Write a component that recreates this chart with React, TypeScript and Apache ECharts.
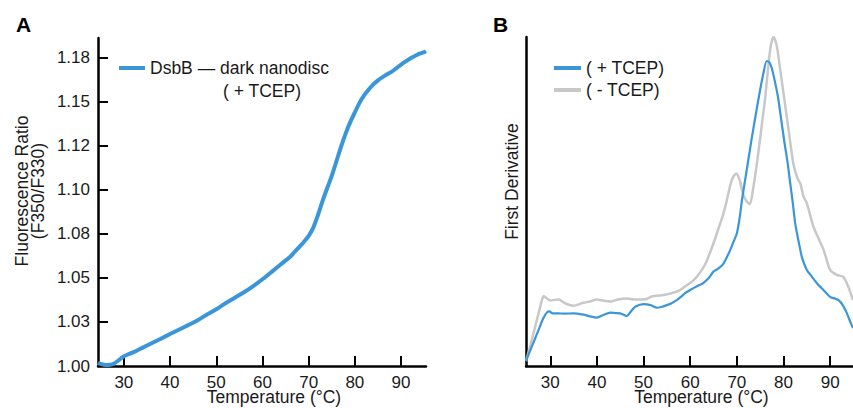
import React, { useEffect, useRef } from "react";
import * as echarts from "echarts";

// Panel A: DsbB — dark nanodisc (+TCEP), fluorescence ratio vs temperature
const tempA = [24.4, 25, 26, 27, 28, 29, 30, 32, 34, 36, 38, 40, 42, 44, 46, 48, 50, 52, 54, 56, 58, 60, 62, 64, 66, 67, 68, 69, 70, 71, 72, 73, 74, 75, 76, 77, 78, 79, 80, 81, 82, 83, 84, 85, 86, 87, 88, 89, 90, 91, 92, 93, 94, 95, 95.4];
const ratioA = [1.0018, 1.0012, 1.0006, 1.0007, 1.0016, 1.0035, 1.0055, 1.0077, 1.0103, 1.0129, 1.0155, 1.0181, 1.0207, 1.0233, 1.026, 1.0292, 1.0322, 1.0356, 1.0387, 1.0418, 1.0453, 1.0492, 1.0534, 1.0577, 1.062, 1.0648, 1.0676, 1.0705, 1.0738, 1.0785, 1.0855, 1.0935, 1.1008, 1.1078, 1.116, 1.1243, 1.1318, 1.1383, 1.1438, 1.1492, 1.1535, 1.1568, 1.1597, 1.162, 1.1638, 1.1654, 1.1669, 1.1689, 1.1709, 1.1727, 1.1744, 1.1758, 1.1771, 1.178, 1.1785];

// Panel B: first derivative
const tempPlus = [24.8, 25.5, 26.5, 27.5, 28.5, 29.3, 29.8, 30.5, 31.7, 33, 35, 37.1, 38.5, 40, 41.5, 42.9, 44, 45, 46.4, 47.3, 48.2, 50, 51.5, 52.9, 54, 55, 56, 57.1, 58, 59, 60, 61, 62, 62.8, 64, 65, 66, 67, 68, 68.6, 69.3, 70, 70.6, 71.1, 72, 73, 74, 75, 75.7, 76.4, 77, 77.5, 78, 78.8, 79.5, 80.2, 80.9, 81.4, 82, 82.5, 82.9, 83.5, 84, 85, 86, 87.5, 88.5, 90, 91, 91.8, 92.7, 93.6, 94.3, 94.9];
const derivPlus = [1.5, 4, 7.5, 11, 14.5, 16.3, 16.6, 16.0, 16.0, 15.9, 16.0, 15.6, 15.1, 14.7, 15.6, 16.2, 16.1, 16.0, 15.2, 16.6, 18.0, 18.8, 18.5, 17.7, 18.0, 18.5, 19.1, 20.0, 21.0, 22.2, 23.1, 23.9, 24.6, 25.2, 26.8, 28.7, 29.6, 30.8, 33.5, 35.3, 37.8, 40.3, 45, 50.5, 58.5, 67.5, 76, 84, 89, 92.7, 92.2, 90.5, 87.5, 81.9, 75, 68, 61.6, 56, 49.5, 43.4, 40.3, 36, 32.8, 29.2, 27.3, 24.6, 23.2, 21, 20.5, 20, 18.5, 16, 13.5, 11.5];
const tempMinus = [24.8, 25.5, 26.5, 27.5, 28.2, 28.6, 29.2, 30, 31, 31.8, 33, 34, 35, 36, 37.1, 38.5, 40, 41.5, 42.9, 44.5, 46.4, 48, 49.4, 50.5, 52.1, 53.5, 55.7, 57.5, 59.3, 60.5, 61.4, 62.5, 63.5, 65, 66, 67, 67.8, 68.5, 69.2, 69.9, 70.6, 71.3, 72, 72.8, 73.5, 74.3, 75.4, 76.1, 76.8, 77.3, 77.9, 78.6, 79.3, 80.1, 81.1, 82.1, 83, 83.6, 84.3, 85, 86.4, 87.5, 88.6, 90, 91.4, 92.8, 93.9, 94.9];
const derivMinus = [1.5, 5, 10.5, 16, 20, 21.3, 20.6, 19.9, 20.1, 20.2, 19.2, 18.6, 18.3, 18.7, 19.2, 19.6, 20.2, 19.8, 19.6, 20.2, 20.5, 20.2, 20.2, 20.3, 21.3, 21.4, 22.0, 22.8, 24.6, 25.8, 27.1, 29.2, 31.8, 37.3, 41.5, 45.8, 50, 54.5, 57.5, 58.5, 56.5, 52.5, 50.2, 49.2, 54, 61.6, 73.8, 81.9, 92, 97.6, 100, 97, 90, 81.9, 71.7, 61.6, 57, 55.5, 51.5, 49.5, 42.4, 38.8, 35.3, 29.2, 27.7, 27.1, 24.1, 20];

// Ticks
const xTicks = [30, 40, 50, 60, 70, 80, 90];
const yTickValuesA = [1.0, 1.025, 1.05, 1.075, 1.1, 1.125, 1.15, 1.175];
const yTickLabelsA = ["1.00", "1.03", "1.05", "1.08", "1.10", "1.12", "1.15", "1.18"];

const seriesNameA = "DsbB — dark nanodisc";
const seriesNameA2 = "( + TCEP)";
const namePlus = "( + TCEP)";
const nameMinus = "( - TCEP)";

const BLUE = "#3a96d8";
const GRAY = "#c8c8c8";
const FONT = "'Liberation Sans', Arial, Helvetica, sans-serif";
const TXT = "#1a1a1a";

const zip = (xs: number[], ys: number[]) => {
  const n = Math.min(xs.length, ys.length);
  const out: number[][] = [];
  for (let i = 0; i < n; i++) out.push([xs[i], ys[i]]);
  return out;
};

export default function App() {
  const ref = useRef<HTMLDivElement>(null);
  useEffect(() => {
    if (!ref.current) return;
    const chart = echarts.init(ref.current, undefined, { renderer: "svg" });

    const axisLine = { show: true, onZero: false, lineStyle: { color: "#000", width: 2.5 } };
    const tick = { show: true, inside: true, length: 10, lineStyle: { color: "#000", width: 2 } };
    const xAxisBase = (gridIndex: number, min: number, max: number) => ({
      type: "value",
      gridIndex,
      min,
      max,
      axisLine,
      axisTick: { ...tick, customValues: xTicks },
      axisLabel: { customValues: xTicks, fontSize: 17, lineHeight: 13, color: TXT, fontFamily: FONT, margin: 10 },
      splitLine: { show: false },
      name: "Temperature (°C)",
      nameLocation: "middle",
      nameGap: 24.25,
      nameMoveOverlap: false,
      nameTextStyle: { fontSize: 17.5, lineHeight: 13, color: TXT, fontFamily: FONT, padding: [0, 0, 0, 24] },
    });

    chart.setOption({
      animation: false,
      textStyle: { fontFamily: FONT },
      grid: [
        { left: 98, top: 38, width: 328, bottom: 42, containLabel: false, outerBoundsMode: "none" },
        { left: 526, top: 37, right: 0, bottom: 42, containLabel: false, outerBoundsMode: "none" },
      ],
      xAxis: [xAxisBase(0, 24.4, 95.4), xAxisBase(1, 24.8, 94.9)],
      yAxis: [
        {
          type: "value",
          gridIndex: 0,
          min: 1.0,
          max: 1.186,
          axisLine,
          axisTick: { ...tick, customValues: yTickValuesA },
          axisLabel: {
            customValues: yTickValuesA,
            fontSize: 17,
            color: TXT,
            fontFamily: FONT,
            margin: 8,
            formatter: (v: number) => {
              const i = yTickValuesA.findIndex((t) => Math.abs(t - v) < 1e-6);
              return i >= 0 ? yTickLabelsA[i] : "";
            },
          },
          splitLine: { show: false },
          name: "Fluorescence Ratio\n(F350/F330)",
          nameLocation: "middle",
          nameRotate: 90,
          nameGap: 52,
          nameMoveOverlap: false,
          nameTextStyle: { fontSize: 17.5, lineHeight: 16, color: TXT, fontFamily: FONT, padding: [0, 0, 0, 22] },
        },
        {
          type: "value",
          gridIndex: 1,
          min: 0,
          max: 100,
          axisLine,
          axisTick: { show: false },
          axisLabel: { show: false },
          splitLine: { show: false },
          name: "First Derivative",
          nameLocation: "middle",
          nameRotate: 90,
          nameGap: 6,
          nameMoveOverlap: false,
          nameTextStyle: { fontSize: 17.5, lineHeight: 17, color: TXT, fontFamily: FONT, padding: [0, 0, 0, 40] },
        },
      ],
      legend: [
        {
          data: [seriesNameA],
          left: 119,
          top: 59,
          icon: "rect",
          itemWidth: 26,
          itemHeight: 4,
          itemGap: 0,
          padding: 0,
          textStyle: { fontSize: 17.5, lineHeight: 18, color: TXT, fontFamily: FONT },
        },
        {
          data: [namePlus, nameMinus],
          orient: "vertical",
          left: 554,
          top: 59,
          icon: "rect",
          itemWidth: 27,
          itemHeight: 4,
          itemGap: 4,
          padding: 0,
          textStyle: { fontSize: 17.5, lineHeight: 18, color: TXT, fontFamily: FONT },
        },
      ],
      graphic: [
        { type: "text", left: 16, top: 14, style: { text: "A", font: `bold 21px ${FONT}`, fill: "#000" } },
        { type: "text", left: 493, top: 14, style: { text: "B", font: `bold 21px ${FONT}`, fill: "#000" } },
        {
          type: "text",
          x: 223,
          y: 91,
          style: { text: seriesNameA2, font: `17.5px ${FONT}`, fill: TXT, verticalAlign: "middle" },
        },
      ],
      series: [
        {
          name: seriesNameA,
          type: "line",
          xAxisIndex: 0,
          yAxisIndex: 0,
          data: zip(tempA, ratioA),
          showSymbol: false,
          smooth: 0.3,
          lineStyle: { color: BLUE, width: 4 },
          itemStyle: { color: BLUE },
        },
        {
          name: nameMinus,
          type: "line",
          xAxisIndex: 1,
          yAxisIndex: 1,
          data: zip(tempMinus, derivMinus),
          showSymbol: false,
          smooth: 0.25,
          z: 2,
          lineStyle: { color: GRAY, width: 2.5 },
          itemStyle: { color: GRAY },
        },
        {
          name: namePlus,
          type: "line",
          xAxisIndex: 1,
          yAxisIndex: 1,
          data: zip(tempPlus, derivPlus),
          showSymbol: false,
          smooth: 0.25,
          z: 3,
          lineStyle: { color: BLUE, width: 2.2 },
          itemStyle: { color: BLUE },
        },
      ],
    });
    return () => chart.dispose();
  }, []);

  return (
    <div
      ref={ref}
      style={{ position: "fixed", left: 0, top: 0, width: 853, height: 408, background: "#fff" }}
    />
  );
}
